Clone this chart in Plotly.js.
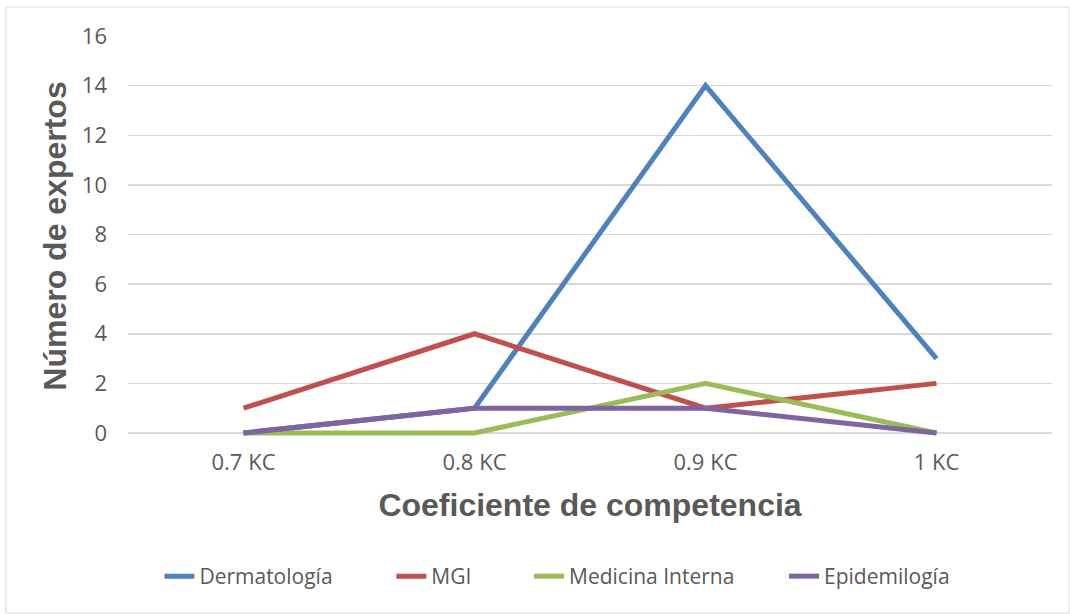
<!DOCTYPE html>
<html>
<head>
<meta charset="utf-8">
<script src="https://cdn.plot.ly/plotly-3.0.1.min.js"></script>
<style>html,body{margin:0;padding:0;background:#fff;}#chart{width:1070px;height:614px;}</style>
</head>
<body>
<div id="chart"></div>
<script>
var categories = ["0.7 KC", "0.8 KC", "0.9 KC", "1 KC"];
var dermatologia = [0, 1, 14, 3];
var mgi = [1, 4, 1, 2];
var medicinaInterna = [0, 0, 2, 0];
var epidemilogia = [0, 1, 1, 0];
var seriesNames = ["Dermatología", "MGI", "Medicina Interna", "Epidemilogía"];
var seriesColors = ["#4F81BD", "#C0504D", "#9BBB59", "#8064A2"];
var seriesValues = [dermatologia, mgi, medicinaInterna, epidemilogia];
var legendIds = ["legend", "legend2", "legend3", "legend4"];
var legendX = [0.034, 0.285, 0.434, 0.710];

var traces = seriesValues.map(function (vals, i) {
  return {
    x: categories, y: vals, type: "scatter", mode: "lines",
    name: seriesNames[i], legend: legendIds[i],
    line: { color: seriesColors[i], width: 5 }
  };
});

var tickFont = { family: "Open Sans, Noto Sans, sans-serif", size: 22, color: "#595959" };
var legendFont = { family: "Open Sans, Noto Sans, sans-serif", size: 21, color: "#595959" };
var layout = {
  width: 1070, height: 614,
  paper_bgcolor: "#ffffff", plot_bgcolor: "#ffffff",
  margin: { l: 128, r: 18, t: 36, b: 178 },
  showlegend: true,
  xaxis: {
    type: "category", range: [-0.5, 3.5],
    showgrid: false, zeroline: false, showline: false,
    tickfont: tickFont, ticks: "", ticklabelstandoff: 11,
    title: { text: "Coeficiente de competencia", standoff: 18,
      font: { family: "Liberation Sans, Arial, sans-serif", size: 32, color: "#595959", weight: "bold" } }
  },
  yaxis: {
    range: [-0.1209, 16], tick0: 0, dtick: 2, showgrid: true, gridcolor: "#D9D9D9", gridwidth: 1.5,
    zeroline: false, showline: false, ticks: "", tickfont: tickFont, ticklabelstandoff: 20,
    title: { text: "Número de expertos", standoff: 5,
      font: { family: "Liberation Sans, Arial, sans-serif", size: 32, color: "#595959", weight: "bold" } }
  },
  shapes: [{
    type: "rect", xref: "paper", yref: "paper",
    x0: -0.132, x1: 1.0184, y0: -0.4425, y1: 1.0725,
    line: { color: "#D9D9D9", width: 1 }, fillcolor: "rgba(0,0,0,0)", layer: "below"
  }]
};
legendIds.forEach(function (id, i) {
  layout[id] = {
    orientation: "h", x: legendX[i], xanchor: "left", y: -0.30, yanchor: "top",
    font: legendFont, bgcolor: "rgba(0,0,0,0)"
  };
});

Plotly.newPlot("chart", traces, layout, { displayModeBar: false, staticPlot: true });
</script>
</body>
</html>
